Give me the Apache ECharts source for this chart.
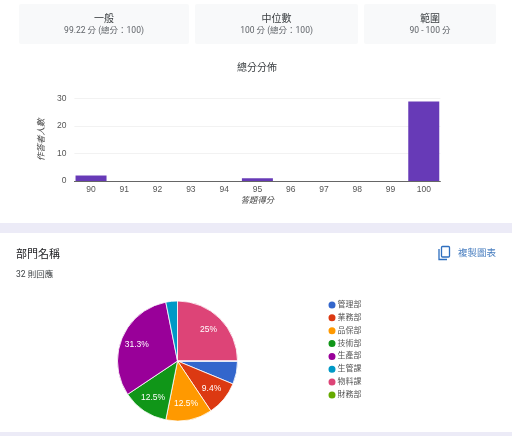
<!DOCTYPE html>
<html><head><meta charset="utf-8">
<style>html,body{margin:0;padding:0;background:#fff}#c{width:512px;height:436px}</style>
<script src="https://cdn.jsdelivr.net/npm/echarts@6/dist/echarts.min.js"></script>
</head><body><div id="c"></div>
<script>
const scoreLabels = ['90','91','92','93','94','95','96','97','98','99','100'];
const scoreCounts = [2,0,0,0,0,1,0,0,0,0,29];
const deptNames = ['管理部','業務部','品保部','技術部','生產部','生管課','物料課','財務部'];
const deptCounts = [2,3,4,4,10,1,8,0];
const deptColors = ['#3366cc','#dc3912','#ff9900','#109618','#990099','#0099c6','#dd4477','#66aa00'];
const statCards = [
  {x:19,w:170,title:'一般',sub:'99.22 分 (總分：100)'},
  {x:195,w:163,title:'中位數',sub:'100 分 (總分：100)'},
  {x:364,w:132,title:'範圍',sub:'90 - 100 分'}
];
const cjk = 'Roboto,"Noto Sans CJK TC",sans-serif';
const ax = '"Liberation Sans","Noto Sans CJK TC",sans-serif';
const total = deptCounts.reduce((a,b)=>a+b,0);
const chart = echarts.init(document.getElementById('c'),null,{renderer:'canvas'});
const gfx = [
  {type:'rect',z:-3,shape:{x:0,y:0,width:512,height:436},style:{fill:'#ecebf7'}},
  {type:'rect',z:-2,shape:{x:-20,y:-20,width:552,height:243,r:8},style:{fill:'#fff'}},
  {type:'rect',z:-2,shape:{x:-20,y:233,width:552,height:199,r:8},style:{fill:'#fff'}}
];
statCards.forEach(c=>{
  gfx.push({type:'rect',z:-1,shape:{x:c.x,y:4,width:c.w,height:40,r:2},style:{fill:'#f8f9fa'}});
  gfx.push({type:'text',style:{x:c.x+c.w/2,y:19.5,text:c.title,align:'center',verticalAlign:'middle',font:'10px '+cjk,fill:'#3c4043'}});
  gfx.push({type:'text',style:{x:c.x+c.w/2,y:31,text:c.sub,align:'center',verticalAlign:'middle',font:'8.5px '+cjk,fill:'#5f6368'}});
});
gfx.push(
  {type:'text',style:{x:257,y:68.5,text:'總分分佈',align:'center',verticalAlign:'middle',font:'10px '+cjk,fill:'#3c4043'}},
  {type:'text',style:{x:16,y:255,text:'部門名稱',verticalAlign:'middle',font:'11px '+cjk,fill:'#202124'}},
  {type:'text',style:{x:16,y:274.5,text:'32 則回應',verticalAlign:'middle',font:'8.5px '+cjk,fill:'#3c4043'}},
  {type:'text',style:{x:458,y:253.5,text:'複製圖表',verticalAlign:'middle',font:'9.5px '+cjk,fill:'#4a7fc0'}},
  {type:'rect',shape:{x:441.5,y:246.5,width:8,height:10.5,r:1},style:{fill:'none',stroke:'#2f6fbf',lineWidth:1.3}},
  {type:'polyline',shape:{points:[[439,249],[439,259.5],[447,259.5]]},style:{fill:'none',stroke:'#2f6fbf',lineWidth:1.3}}
);
chart.setOption({
  animation:false,
  textStyle:{fontFamily:ax},
  graphic:gfx,
  grid:{left:74.4,top:98.7,width:366,height:82.3,containLabel:false},
  xAxis:{type:'category',data:scoreLabels,name:'答題得分',nameLocation:'middle',nameGap:16,
    nameTextStyle:{fontSize:8.3,fontStyle:'italic',color:'#444',fontFamily:ax},
    axisLine:{lineStyle:{color:'#666',width:1}},axisTick:{show:false},
    axisLabel:{fontSize:8.5,color:'#555',margin:4,interval:0,fontFamily:ax}},
  yAxis:{type:'value',min:0,max:30,interval:10,name:'作答者人數',nameLocation:'middle',nameGap:27,
    nameTextStyle:{fontSize:8.5,fontStyle:'italic',color:'#444',fontFamily:ax},
    axisLine:{show:false},axisTick:{show:false},
    splitLine:{lineStyle:{color:'#f2f2f2',width:1}},
    axisLabel:{fontSize:8.5,color:'#555',margin:8,fontFamily:ax}},
  legend:{orient:'vertical',left:321.5,top:294.5,itemWidth:9,itemHeight:9,itemGap:1.85,icon:'circle',
    data:deptNames,selectedMode:false,
    textStyle:{fontSize:8,lineHeight:8,color:'#555',padding:[0,0,0,-4],fontFamily:cjk}},
  series:[
    {type:'bar',data:scoreCounts,barWidth:31,itemStyle:{color:'#673ab7'},silent:true},
    {type:'pie',center:[177.5,361],radius:[0,60],startAngle:0,clockwise:true,minAngle:0,
      silent:true,stillShowZeroSum:false,label:{show:false},labelLine:{show:false},
      itemStyle:{borderColor:'#fff',borderWidth:0.8},
      data:deptNames.map((n,i)=>({name:n,value:deptCounts[i],itemStyle:{color:deptColors[i]}}))},
    {type:'pie',center:[177.5,361],radius:[22,60],startAngle:0,clockwise:true,silent:true,z:5,
      legendHoverLink:false,
      labelLine:{show:false},
      label:{position:'inside',fontSize:8.5,color:'#fff',fontFamily:ax,
        formatter:p=>{const v=p.value/total*100;return v>=9?(Math.round(v*10)/10)+'%':'';}},
      data:deptNames.map((n,i)=>({name:n+' ',value:deptCounts[i],itemStyle:{color:'rgba(0,0,0,0)'}}))}
  ]
});
</script></body></html>
